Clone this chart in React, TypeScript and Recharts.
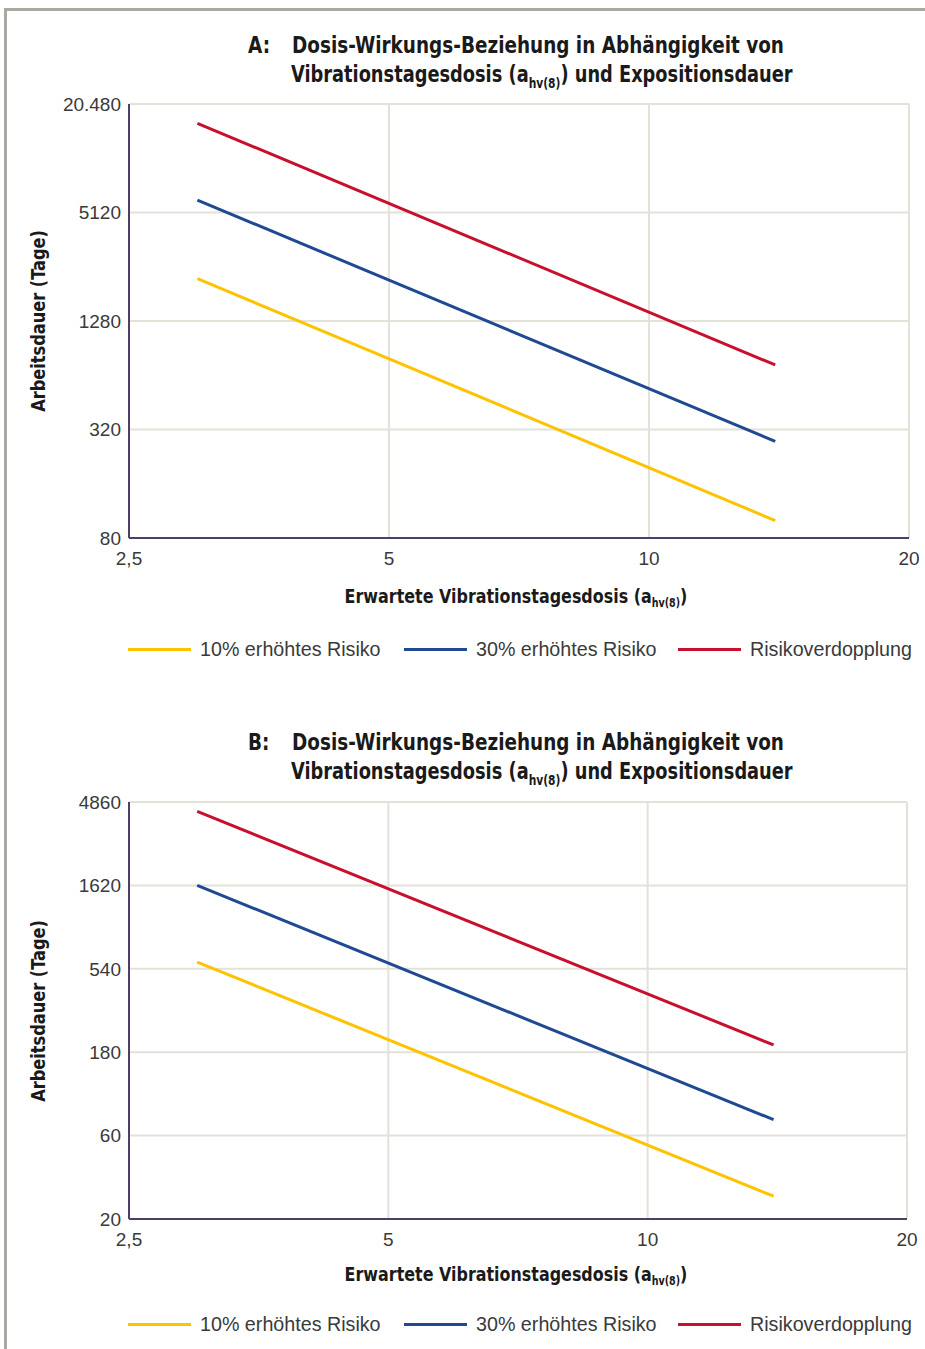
import React from "react";
import { LineChart, Line, XAxis, YAxis, CartesianGrid } from "recharts";

const doses = [3, 14];
const xTicks = [2.5, 5, 10, 20];
const xTickLabels = ["2,5", "5", "10", "20"];

const aYTicks = [80, 320, 1280, 5120, 20480];
const aYTickLabels = ["80", "320", "1280", "5120", "20.480"];
const aRisk10 = [2200, 100];
const aRisk30 = [6000, 275];
const aRisk100 = [16000, 730];

const bYTicks = [20, 60, 180, 540, 1620, 4860];
const bYTickLabels = ["20", "60", "180", "540", "1620", "4860"];
const bRisk10 = [590, 27];
const bRisk30 = [1620, 74];
const bRisk100 = [4300, 198];

const seriesNames = ["10% erhöhtes Risiko", "30% erhöhtes Risiko", "Risikoverdopplung"];
const seriesColors = ["#fdc300", "#1f4a91", "#c8102e"];

const titleFont = "'Liberation Sans Narrow', 'DejaVu Sans Condensed', 'Roboto', sans-serif";
const tickFont = "'Liberation Sans', Arial, sans-serif";
const axisColor = "#4e3f66";
const gridColor = "#e2e1da";

function buildRows(r10: number[], r30: number[], r100: number[]) {
  return doses.map((d, i) => ({ dose: d, r10: r10[i], r30: r30[i], r100: r100[i] }));
}

const Sub = () => (
  <span style={{ fontSize: "0.6em", verticalAlign: "-0.4em" }}>hv(8)</span>
);

function Panel(props: {
  top: number;
  letter: string;
  rows: any[];
  yTicks: number[];
  yLabels: string[];
  marginTop: number;
  marginBottom: number;
  marginRight: number;
  height: number;
  plotTop: number;
  plotBottom: number;
  titleTop: number;
  xLabelOffset: number;
  legendOffset: number;
}) {
  const { top, letter, rows, yTicks, yLabels } = props;
  const tickStyle = { fill: "#3a3a3a", fontSize: 19, fontFamily: tickFont };
  const plotMid = (props.plotTop + props.plotBottom) / 2;
  const titleStyle: React.CSSProperties = {
    position: "absolute",
    fontFamily: titleFont,
    fontWeight: "bold",
    fontSize: 23,
    color: "#1a1a1a",
    lineHeight: "29px",
    whiteSpace: "nowrap",
    transformOrigin: "0 0",
    transform: "scaleX(0.89)",
  };
  return (
    <div style={{ position: "absolute", left: 0, top, width: 925, height: props.height + 120 }}>
      <div style={{ ...titleStyle, left: 248, top: props.titleTop }}>{letter}:</div>
      <div style={{ ...titleStyle, left: 292, top: props.titleTop }}>
        Dosis-Wirkungs-Beziehung in Abhängigkeit von
      </div>
      <div style={{ ...titleStyle, left: 291, top: props.titleTop + 29, transform: "scaleX(0.86)" }}>
        Vibrationstagesdosis (a<Sub />) und Expositionsdauer
      </div>
      <LineChart
        width={925}
        height={props.height}
        data={rows}
        margin={{ top: props.marginTop, right: props.marginRight, bottom: props.marginBottom, left: 59 }}
      >
        <CartesianGrid stroke={gridColor} strokeWidth={2} horizontalValues={yTicks} verticalValues={xTicks} />
        <XAxis
          dataKey="dose"
          type="number"
          scale="log"
          domain={[2.5, 20]}
          ticks={xTicks}
          allowDataOverflow
          tickLine={false}
          tickMargin={8}
          height={30}
          stroke={axisColor}
          strokeWidth={2}
          tick={tickStyle}
          tickFormatter={(v: number) => xTickLabels[xTicks.indexOf(v)] ?? String(v)}
        />
        <YAxis
          type="number"
          scale="log"
          domain={[yTicks[0], yTicks[yTicks.length - 1]]}
          ticks={yTicks}
          allowDataOverflow
          width={70}
          tickLine={false}
          stroke={axisColor}
          strokeWidth={2}
          tick={tickStyle}
          tickFormatter={(v: number) => yLabels[yTicks.indexOf(v)] ?? String(v)}
        />
        <Line dataKey="r10" stroke={seriesColors[0]} strokeWidth={3} dot={false} isAnimationActive={false} />
        <Line dataKey="r30" stroke={seriesColors[1]} strokeWidth={3} dot={false} isAnimationActive={false} />
        <Line dataKey="r100" stroke={seriesColors[2]} strokeWidth={3} dot={false} isAnimationActive={false} />
      </LineChart>
      <div
        style={{
          position: "absolute",
          left: 38,
          top: plotMid,
          transform: "translate(-50%, -50%) rotate(-90deg) scaleX(0.9)",
          fontFamily: titleFont,
          fontWeight: "bold",
          fontSize: 20,
          color: "#1a1a1a",
          whiteSpace: "nowrap",
        }}
      >
        Arbeitsdauer (Tage)
      </div>
      <div
        style={{
          position: "absolute",
          left: 516,
          top: props.plotBottom + props.xLabelOffset,
          transform: "translate(-50%, -50%) scaleX(0.885)",
          fontFamily: titleFont,
          fontWeight: "bold",
          fontSize: 20,
          color: "#1a1a1a",
          whiteSpace: "nowrap",
        }}
      >
        Erwartete Vibrationstagesdosis (a<Sub />)
      </div>
      {seriesNames.map((name, i) => {
        const lx = [128, 404, 678][i];
        return (
          <div
            key={name}
            style={{
              position: "absolute",
              left: lx,
              top: props.plotBottom + props.legendOffset - 12,
              height: 24,
              display: "flex",
              alignItems: "center",
              whiteSpace: "nowrap",
              fontFamily: tickFont,
              fontSize: 19.7,
              color: "#3a3a3a",
            }}
          >
            <span style={{ display: "inline-block", width: 63, height: 3, background: seriesColors[i], marginRight: 9 }} />
            {name}
          </div>
        );
      })}
    </div>
  );
}

export default function App() {
  const rowsA = buildRows(aRisk10, aRisk30, aRisk100);
  const rowsB = buildRows(bRisk10, bRisk30, bRisk100);
  return (
    <div style={{ position: "absolute", left: 0, top: 0, width: 925, height: 1349, background: "#fff", overflow: "hidden" }}>
      <div
        style={{
          position: "absolute",
          left: 4,
          top: 8,
          width: 940,
          height: 1400,
          borderTop: "3px solid #a9a9a2",
          borderLeft: "3px solid #a9a9a2",
        }}
      />
      <Panel
        top={0}
        letter="A"
        rows={rowsA}
        yTicks={aYTicks}
        yLabels={aYTickLabels}
        height={580}
        marginTop={104}
        marginBottom={12}
        marginRight={16}
        plotTop={104}
        plotBottom={538}
        titleTop={31}
        xLabelOffset={59}
        legendOffset={111}
      />
      <Panel
        top={700}
        letter="B"
        rows={rowsB}
        yTicks={bYTicks}
        yLabels={bYTickLabels}
        height={560}
        marginTop={102}
        marginBottom={11}
        marginRight={18}
        plotTop={102}
        plotBottom={519}
        titleTop={28}
        xLabelOffset={56}
        legendOffset={105}
      />
    </div>
  );
}
